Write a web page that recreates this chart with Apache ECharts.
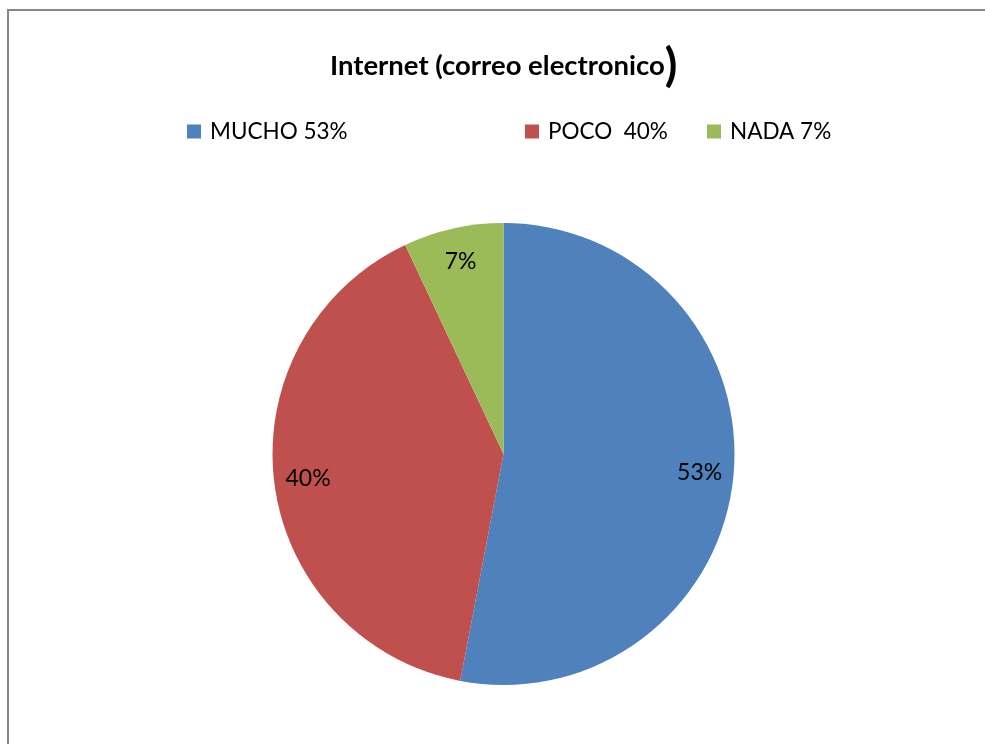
<!DOCTYPE html>
<html>
<head>
<meta charset="utf-8">
<script src="https://cdn.jsdelivr.net/npm/echarts@6/dist/echarts.min.js"></script>
<style>
  html, body { margin: 0; padding: 0; background: #fff; }
  #chart { width: 985px; height: 744px; }
</style>
</head>
<body>
<div id="chart"></div>
<script>
const categories = ['MUCHO 53%', 'POCO  40%', 'NADA 7%']
const values = [53, 40, 7]
const colors = ['#4F81BD', '#C0504D', '#9BBB59']

let myChart = echarts.init(document.getElementById('chart'))
let pieData = categories.map((name, i) => ({ name: name, value: values[i] }))
let font = 'Lato, "Liberation Sans", sans-serif'

// one legend per item, Excel spaced them unevenly
let legendLeft = [187, 525, 707]
let legends = categories.map((name, i) => ({
  data: [name],
  left: legendLeft[i],
  top: 120,
  padding: 0,
  icon: 'rect',
  itemWidth: 14,
  itemHeight: 14,
  textStyle: { fontFamily: font, fontSize: 22.5, color: '#000', padding: [0, 0, 0, 4] }
}))

let option = {
  backgroundColor: '#fff',
  color: colors,
  animation: false,
  title: {
    text: '{a|Internet (correo electronico}{b|)}',
    left: 330,
    top: 43,
    padding: 0,
    textStyle: {
      rich: {
        a: { fontFamily: font, fontSize: 27.5, fontWeight: 'bold', color: '#000' },
        b: { fontFamily: font, fontSize: 46, fontWeight: 'bold', color: '#000' }
      }
    }
  },
  legend: legends,
  graphic: [{
    type: 'rect',
    shape: { x: 8, y: 10, width: 1100, height: 900 },
    style: { fill: 'none', stroke: '#868686', lineWidth: 2 },
    silent: true
  }],
  series: [
    {
      type: 'pie',
      center: [503.5, 454],
      radius: 231,
      startAngle: 90,
      clockwise: true,
      label: { show: false },
      labelLine: { show: false },
      emphasis: { disabled: true },
      data: pieData
    },
    {
      // transparent ring only used to place the labels near the rim
      type: 'pie',
      center: [503.5, 454],
      radius: [157, 231],
      startAngle: 90,
      clockwise: true,
      silent: true,
      itemStyle: { color: 'rgba(0,0,0,0)' },
      label: {
        show: true,
        position: 'inside',
        formatter: '{c}%',
        fontFamily: font,
        fontSize: 23,
        color: '#000'
      },
      labelLine: { show: false },
      emphasis: { disabled: true },
      data: pieData
    }
  ]
}
myChart.setOption(option)
</script>
</body>
</html>
